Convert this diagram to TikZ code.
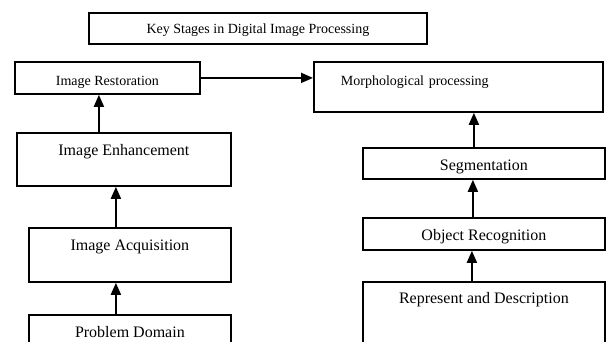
\documentclass[tikz,border=0pt]{standalone}
\usepackage{fontspec}
\setmainfont{Liberation Serif}
\usepackage{tikz}
\usetikzlibrary{arrows.meta}
\tikzstyle{stage} = [draw=black, line width=1.8pt, inner sep=0pt, anchor=north west, text height=23pt, font={\fontsize{14}{16}\selectfont}]
\tikzstyle{big} = [font={\fontsize{16}{19}\selectfont}]
\tikzstyle{flow} = [line width=1.8pt, -{Triangle[length=12pt,width=10pt]}]

\begin{document}
\begin{tikzpicture}[x=1pt,y=-1pt]
    \clip (0,0) rectangle (606,342);
    \node[stage,minimum width=338pt,text height=21pt,text depth=10pt](title) at (88,12){Key Stages in Digital Image Processing};
    \node[stage,minimum width=185pt,text height=24pt,text depth=8pt](restor) at (14,61){Image Restoration};
    \node[stage,minimum width=289pt,text height=24pt,text depth=26pt,text width=235pt,align=left,inner xsep=27pt](morph) at (313,61){Morphological processing};
    \node[stage,big,minimum width=214pt,text depth=30pt](enhance) at (16,132){Image Enhancement};
    \node[stage,big,minimum width=202pt,text depth=31pt](acq) at (28,227){Image Acquisition};
    \node[stage,big,minimum width=202pt,text depth=31pt](prob) at (28,314){Problem Domain};
    \node[stage,big,minimum width=242pt,text depth=8pt](seg) at (362,147){Segmentation};
    \node[stage,big,minimum width=242pt,text depth=9pt](obj) at (362,217){Object Recognition};
    \node[stage,big,minimum width=242pt,text height=22pt,text depth=50pt](rep) at (362,281){Represent and Description};
    \coordinate(e1) at ([xshift=-25pt]enhance.north);
    \coordinate(a1) at ([xshift=-14pt]acq.north);
    \coordinate(p1) at ([xshift=-14pt]prob.north);
    \coordinate(s1) at ([xshift=-10pt]seg.north);
    \coordinate(o1) at ([xshift=-11pt]obj.north);
    \coordinate(d1) at ([xshift=-12pt]rep.north);
    \draw[flow](restor.east)--(restor.east -| morph.west);
    \draw[flow](e1)--(e1 |- restor.south);
    \draw[flow](a1)--(a1 |- enhance.south);
    \draw[flow](p1)--(p1 |- acq.south);
    \draw[flow](s1)--(s1 |- morph.south);
    \draw[flow](o1)--(o1 |- seg.south);
    \draw[flow](d1)--(d1 |- obj.south);
  \end{tikzpicture}
\end{document}
